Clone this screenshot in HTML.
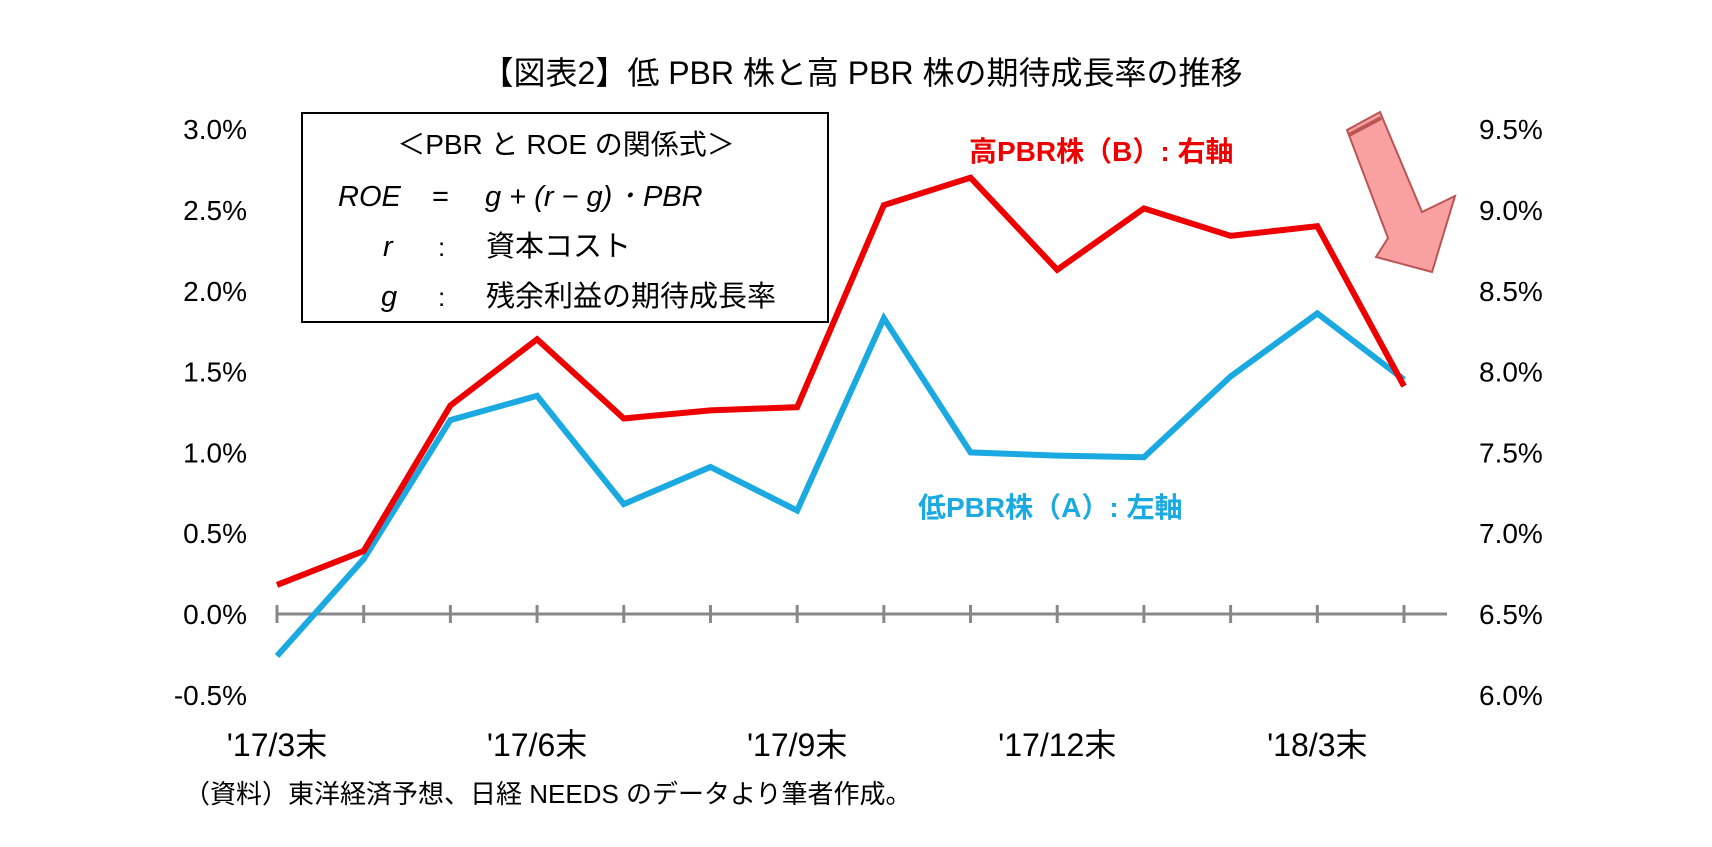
<!DOCTYPE html>
<html><head><meta charset="utf-8"><style>
body{margin:0;background:#fff;}
svg text{font-family:"Liberation Sans","Noto Sans CJK JP",sans-serif;}
</style></head><body>
<svg width="1712" height="842" viewBox="0 0 1712 842">
<text x="862" y="84" font-size="32" text-anchor="middle">【図表2】低 PBR 株と高 PBR 株の期待成長率の推移</text>
<g>
<rect x="302" y="113" width="526" height="209" fill="#fff" stroke="#000" stroke-width="2"/>
<text x="566" y="154" font-size="28" text-anchor="middle" font-family="Liberation Serif,Noto Serif CJK SC,serif">＜PBR と ROE の関係式＞</text>
<text x="338" y="206" font-size="29" font-style="italic" font-family="Liberation Serif,serif">ROE</text>
<text x="432" y="206" font-size="29" font-family="Liberation Serif,serif">=</text>
<text x="485" y="206" font-size="29" font-style="italic" font-family="Liberation Serif,serif">g + (r − g) ･ PBR</text>
<text x="383" y="256" font-size="29" font-style="italic" font-family="Liberation Serif,serif">r</text>
<text x="438" y="256" font-size="26">:</text>
<text x="486" y="256" font-size="29">資本コスト</text>
<text x="381" y="306" font-size="29" font-style="italic" font-family="Liberation Serif,serif">g</text>
<text x="438" y="306" font-size="26">:</text>
<text x="486" y="306" font-size="29">残余利益の期待成長率</text>
</g>
<g id="axes"></g>
<text x="969" y="161" font-size="28" font-weight="bold" fill="#ee0000">高PBR株（B）: 右軸</text>
<text x="918" y="517" font-size="28" font-weight="bold" fill="#1aa9e0">低PBR株（A）: 左軸</text>
<g>
<polygon points="1347,130 1380,112 1422,212 1455,196 1432,272 1376,257 1388,238" fill="#f9a0a0" stroke="#b55" stroke-width="2"/>
<line x1="1349" y1="135" x2="1381" y2="118" stroke="#b55" stroke-width="4"/>
</g>
<text x="184" y="803" font-size="26">（資料）東洋経済予想、日経 NEEDS のデータより筆者作成。</text>
</svg>
<script>
const categories=["'17/3末","","","'17/6末","","","'17/9末","","","'17/12末","","","'18/3末",""];
const lowPBR=[-0.26,0.34,1.20,1.35,0.68,0.91,0.64,1.83,1.00,0.98,0.97,1.47,1.86,1.45];
const highPBR=[6.68,6.89,7.79,8.20,7.71,7.76,7.78,9.03,9.20,8.63,9.01,8.84,8.90,7.91];
const leftTicks=[-0.5,0,0.5,1,1.5,2,2.5,3];
const rightTicks=[6.0,6.5,7.0,7.5,8.0,8.5,9.0,9.5];
const NS="http://www.w3.org/2000/svg";
const g=document.getElementById('axes');
const x=i=>277+i*(1404-277)/(categories.length-1);
const yL=v=>614-v*161.6;
const yR=v=>614-(v-6.5)*161.6;
function mk(t,a,p){const e=document.createElementNS(NS,t);for(const k in a)e.setAttribute(k,a[k]);(p||g).appendChild(e);return e;}
leftTicks.forEach(v=>{const t=mk('text',{x:247,y:yL(v)+10,'font-size':28,'text-anchor':'end'});t.textContent=v.toFixed(1)+'%';

});
rightTicks.forEach(v=>{const t=mk('text',{x:1479,y:yR(v)+10,'font-size':28});t.textContent=v.toFixed(1)+'%';

});
const ax=mk('line',{x1:277,x2:1447,y1:yL(0),y2:yL(0),stroke:'#888','stroke-width':3});


categories.forEach((c,i)=>{const tk=mk('line',{x1:x(i),x2:x(i),y1:yL(0)-9,y2:yL(0)+9,stroke:'#888','stroke-width':3});


if(c){const t=mk('text',{x:x(i),y:756,'font-size':32,'text-anchor':'middle'});t.textContent=c;

}});
const pl=mk('polyline',{points:lowPBR.map((v,i)=>x(i)+','+yL(v)).join(' '),fill:'none',stroke:'#1aa9e0','stroke-width':6});


const pr=mk('polyline',{points:highPBR.map((v,i)=>x(i)+','+yR(v)).join(' '),fill:'none',stroke:'#ee0000','stroke-width':6});


</script>
</body></html>
